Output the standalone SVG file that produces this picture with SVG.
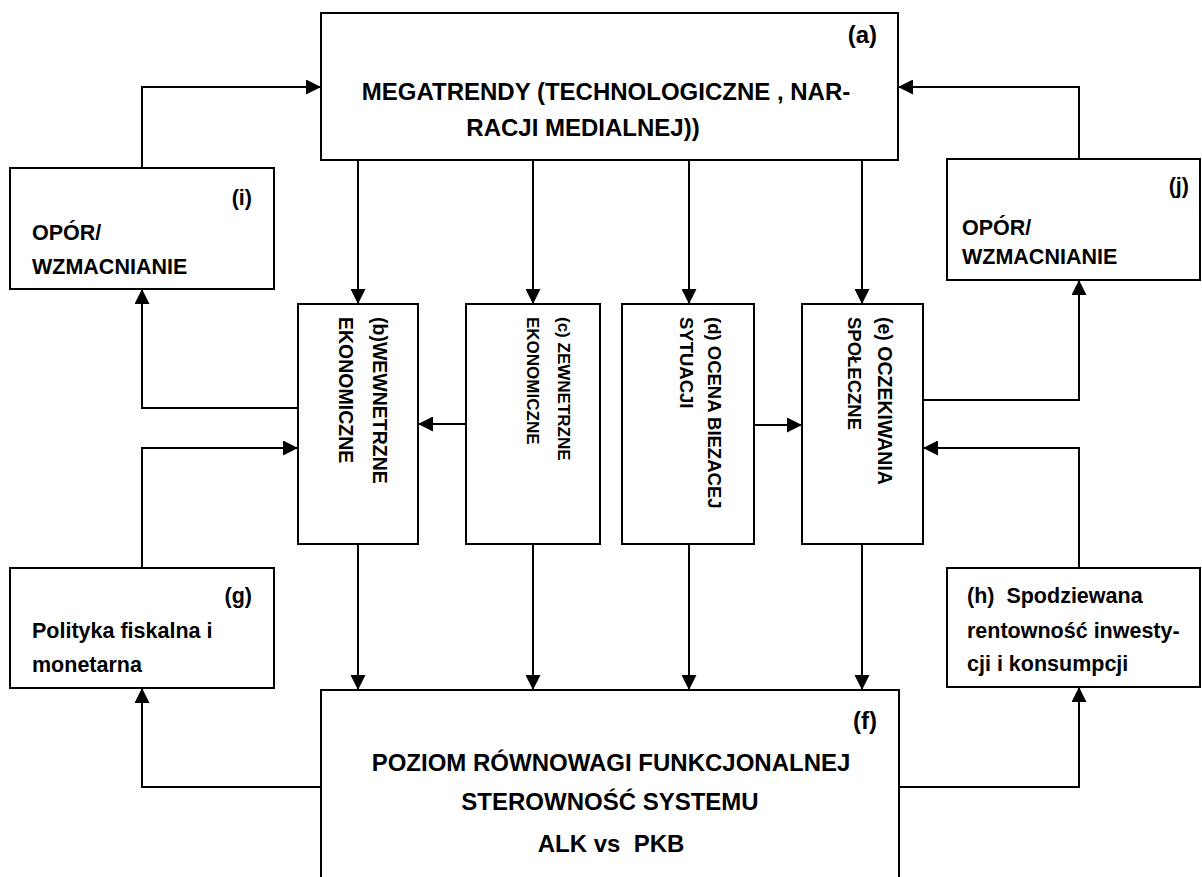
<svg xmlns="http://www.w3.org/2000/svg" width="1202" height="877" viewBox="0 0 1202 877">
<style>
.box{fill:#fff;stroke:#000;stroke-width:2}
.t{font-family:"Liberation Sans",Arial,sans-serif;font-weight:bold;fill:#000}
.big{font-size:24px}
.sm{font-size:21.5px}
.mid{text-anchor:middle}
.end{text-anchor:end}
#connectors path{fill:none;stroke:#000;stroke-width:2;marker-end:url(#arr)}
</style>
<defs>
<marker id="arr" markerUnits="userSpaceOnUse" markerWidth="15" markerHeight="15" refX="15" refY="7.5" orient="auto">
<path d="M0,0 L15,7.5 L0,15 Z" fill="#000"/>
</marker>
</defs>
<rect width="1202" height="877" fill="#fff"/>
<g id="connectors">
<path d="M142,168 V87 H321"/>
<path d="M1079,159 V87 H898"/>
<path d="M358,160 V304"/>
<path d="M533,160 V304"/>
<path d="M689,160 V304"/>
<path d="M862,160 V304"/>
<path d="M466,424 H418"/>
<path d="M754,425 H802"/>
<path d="M298,408 H142 V289"/>
<path d="M142,568 V448 H298"/>
<path d="M923,400 H1079 V280"/>
<path d="M1079,568 V448 H923"/>
<path d="M358,544 V690"/>
<path d="M533,544 V690"/>
<path d="M689,544 V690"/>
<path d="M862,544 V690"/>
<path d="M321,787 H142 V688"/>
<path d="M898,787 H1079 V687"/>
</g>
<g id="node-a">
<rect class="box" x="321" y="13" width="577" height="147"/>
<text class="t big end" x="877" y="43">(a)</text>
<text class="t big mid" x="606" y="100">MEGATRENDY (TECHNOLOGICZNE , NAR-</text>
<text class="t big mid" x="583" y="136">RACJI MEDIALNEJ))</text>
</g>
<g id="node-i">
<rect class="box" x="10" y="168" width="264" height="121"/>
<text class="t sm end" x="252" y="205">(i)</text>
<text class="t sm" x="32" y="240">OPÓR/</text>
<text class="t sm" x="32" y="274">WZMACNIANIE</text>
</g>
<g id="node-j">
<rect class="box" x="947" y="159" width="253" height="121"/>
<text class="t sm end" x="1189" y="193">(j)</text>
<text class="t sm" x="962" y="235">OPÓR/</text>
<text class="t sm" x="962" y="264">WZMACNIANIE</text>
</g>
<g id="node-b">
<rect class="box" x="298" y="304" width="120" height="240"/>
<text class="t" font-size="19.5" transform="translate(373,317) rotate(90)">(b)WEWNETRZNE</text>
<text class="t" font-size="19.5" transform="translate(339,317) rotate(90)">EKONOMICZNE</text>
</g>
<g id="node-c">
<rect class="box" x="466" y="304" width="134" height="240"/>
<text class="t" font-size="17" transform="translate(558,317) rotate(90)">(c) ZEWNETRZNE</text>
<text class="t" font-size="17" transform="translate(527,317) rotate(90)">EKONOMICZNE</text>
</g>
<g id="node-d">
<rect class="box" x="622" y="304" width="132" height="240"/>
<text class="t" font-size="18.5" transform="translate(708,317) rotate(90)">(d) OCENA BIEZACEJ</text>
<text class="t" font-size="18.5" transform="translate(680,317) rotate(90)">SYTUACJI</text>
</g>
<g id="node-e">
<rect class="box" x="802" y="304" width="121" height="240"/>
<text class="t" font-size="19.5" transform="translate(878,317) rotate(90)">(e) OCZEKIWANIA</text>
<text class="t" font-size="18.5" transform="translate(848,317) rotate(90)">SPOŁECZNE</text>
</g>
<g id="node-g">
<rect class="box" x="10" y="568" width="264" height="120"/>
<text class="t sm end" x="252" y="603">(g)</text>
<text class="t sm" x="32" y="638">Polityka fiskalna i</text>
<text class="t sm" x="32" y="672">monetarna</text>
</g>
<g id="node-h">
<rect class="box" x="947" y="568" width="253" height="119"/>
<text class="t sm" x="967" y="603" xml:space="preserve">(h)  Spodziewana</text>
<text class="t sm" x="967" y="638">rentowność inwesty-</text>
<text class="t sm" x="967" y="671">cji i konsumpcji</text>
</g>
<g id="node-f">
<rect class="box" x="321" y="690" width="578" height="220"/>
<text class="t big end" x="877" y="729">(f)</text>
<text class="t big mid" x="611" y="771">POZIOM RÓWNOWAGI FUNKCJONALNEJ</text>
<text class="t big mid" x="610" y="810">STEROWNOŚĆ SYSTEMU</text>
<text class="t big mid" x="611" y="852" xml:space="preserve">ALK vs  PKB</text>
</g>
</svg>
